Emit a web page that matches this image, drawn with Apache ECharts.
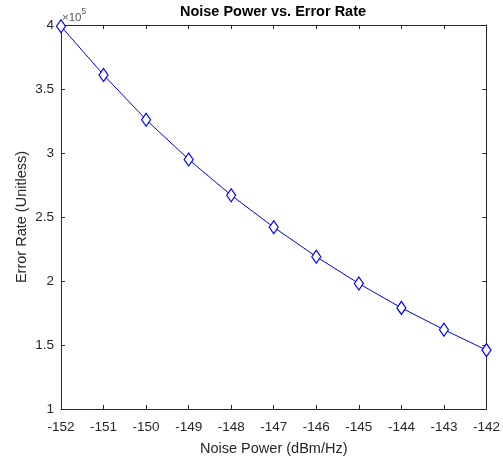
<!DOCTYPE html>
<html>
<head>
<meta charset="utf-8">
<script src="https://cdn.jsdelivr.net/npm/echarts@6/dist/echarts.min.js"></script>
<style>
  html, body { margin: 0; padding: 0; background: #fff; }
  #chart { width: 503px; height: 461px; }
</style>
</head>
<body>
<div id="chart"></div>
<script>
// Noise power sweep (dBm/Hz) and the measured error rate at each step
const noisePower = [-152, -151, -150, -149, -148, -147, -146, -145, -144, -143, -142];
const errorRate = [399000, 361000, 326000, 295000, 267000, 242000, 219000, 198000, 179000, 162000, 146000];
const xTicks = { min: -152, max: -142, step: 1 };
const yTicks = { min: 100000, max: 400000, step: 50000 };
const yScale = 1e5;

const axisColor = '#262626';
const font = "'Liberation Sans', Arial, sans-serif";

const chart = echarts.init(document.getElementById('chart'), null, { renderer: 'canvas' });

const fmtY = v => {
  const s = v / yScale;
  return Number.isInteger(s) ? String(s) : s.toFixed(1);
};

// Box around the plot: ticks point inward on all four sides
const boxAxis = {
  axisLine: { show: true, lineStyle: { color: axisColor, width: 1 } },
  axisTick: { show: true, inside: true, length: 4, lineStyle: { color: axisColor } },
  splitLine: { show: false }
};

chart.setOption({
  animation: false,
  backgroundColor: '#ffffff',
  grid: { left: 61, right: 16, top: 25, bottom: 49, containLabel: false },
  xAxis: [
    Object.assign({
      type: 'value', min: xTicks.min, max: xTicks.max, interval: xTicks.step,
      position: 'bottom',
      name: 'Noise Power (dBm/Hz)', nameLocation: 'middle', nameGap: 32, nameMoveOverlap: false,
      nameTextStyle: { fontFamily: font, fontSize: 14.5, color: axisColor },
      axisLabel: { fontFamily: font, fontSize: 13.5, color: axisColor, margin: 11 }
    }, boxAxis),
    Object.assign({
      type: 'value', min: xTicks.min, max: xTicks.max, interval: xTicks.step,
      position: 'top', axisLabel: { show: false }
    }, boxAxis)
  ],
  yAxis: [
    Object.assign({
      type: 'value', min: yTicks.min, max: yTicks.max, interval: yTicks.step,
      position: 'left',
      name: 'Error Rate (Unitless)', nameLocation: 'middle', nameGap: 32, nameMoveOverlap: false,
      nameTextStyle: { fontFamily: font, fontSize: 14.5, color: axisColor },
      axisLabel: { fontFamily: font, fontSize: 13.5, color: axisColor, margin: 7, formatter: fmtY }
    }, boxAxis),
    Object.assign({
      type: 'value', min: yTicks.min, max: yTicks.max, interval: yTicks.step,
      position: 'right', axisLabel: { show: false }
    }, boxAxis)
  ],
  graphic: [
    {
      type: 'text', x: 273, y: 11.5,
      style: {
        text: 'Noise Power vs. Error Rate', fontFamily: font, fontSize: 14.5, fontWeight: 'bold',
        fill: '#000', align: 'center', verticalAlign: 'middle'
      }
    },
    {
      type: 'text', x: 62, y: 17.5,
      style: { text: '×10', fontFamily: font, fontSize: 11.5, fill: '#555', verticalAlign: 'middle' }
    },
    {
      type: 'text', x: 81.5, y: 12,
      style: { text: '5', fontFamily: font, fontSize: 8.5, fill: '#555', verticalAlign: 'middle' }
    }
  ],
  series: [{
    type: 'line',
    data: noisePower.map((x, i) => [x, errorRate[i]]),
    xAxisIndex: 0, yAxisIndex: 0,
    lineStyle: { color: '#0000ff', width: 1 },
    itemStyle: { color: '#ffffff', borderColor: '#0000ff', borderWidth: 1.2 },
    symbol: 'diamond', symbolSize: [9, 13],
    showSymbol: true,
    clip: false,
    z: 3
  }]
});
</script>
</body>
</html>
